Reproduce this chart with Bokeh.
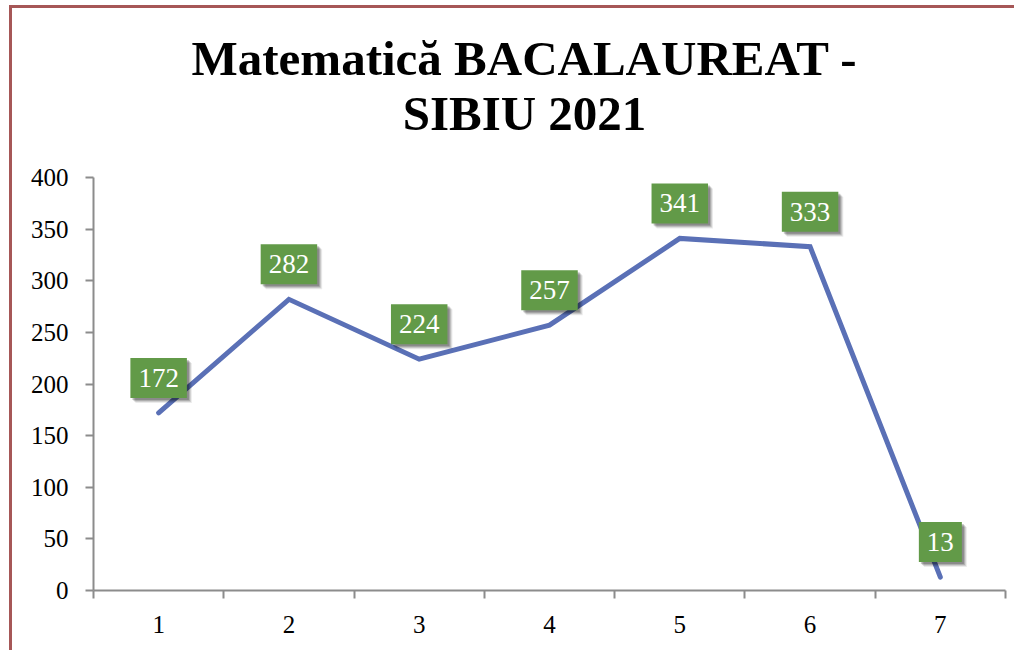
from bokeh.plotting import figure
from bokeh.models import ColumnDataSource, FixedTicker, Range1d
from bokeh.core.properties import value
from bokeh.embed import file_html
from bokeh.resources import INLINE

categories = [1, 2, 3, 4, 5, 6, 7]
values = [172, 282, 224, 257, 341, 333, 13]
title_lines = ["Matematică BACALAUREAT -", "SIBIU 2021"]
y_ticks = [0, 50, 100, 150, 200, 250, 300, 350, 400]

FONT = "Liberation Serif"

# layout (page pixels)
CANVAS_LEFT, CANVAS_TOP = 12, 8
FRAME_LEFT, FRAME_RIGHT = 93, 1005
Y0_PX, Y400_PX = 590, 177
px_per_unit = (Y0_PX - Y400_PX) / 400.0
y_top = (Y0_PX - CANVAS_TOP) / px_per_unit          # frame reaches canvas top
px_per_cat = (FRAME_RIGHT - FRAME_LEFT) / 7.0

def page_to_y(py):
    return (Y0_PX - py) / px_per_unit

def page_to_x(px):
    return 0.5 + (px - FRAME_LEFT) / px_per_cat

W = 1008
H = 645
p = figure(width=W, height=H, output_backend="svg", toolbar_location=None,
           x_range=Range1d(0.5, 7.5), y_range=Range1d(0, y_top),
           min_border_left=FRAME_LEFT - CANVAS_LEFT,
           min_border_right=CANVAS_LEFT + W - FRAME_RIGHT,
           min_border_top=0,
           min_border_bottom=CANVAS_TOP + H - Y0_PX)
p.styles = {"box-shadow": "-3px -3px 0 0 #A65757",
            "clip-path": "inset(-3px 6px 0px -3px)",
            "margin-top": f"{CANVAS_TOP}px", "margin-left": f"{CANVAS_LEFT}px"}
p.outline_line_color = None
p.grid.visible = False
p.background_fill_color = "white"
p.border_fill_color = "white"

src = ColumnDataSource(dict(x=categories, y=values, t=[str(v) for v in values]))
p.line("x", "y", source=src, line_color="#5A70B6", line_width=5, line_cap="round", line_join="miter")

# axes
xa = p.xaxis[0]
xa.ticker = FixedTicker(ticks=categories, minor_ticks=[c - 0.5 for c in categories] + [7.5])
xa.major_tick_out = 0
xa.major_tick_in = 0
xa.minor_tick_out = 8
xa.minor_tick_in = 0
xa.minor_tick_line_color = "#8C8C8C"
xa.minor_tick_line_width = 2
xa.axis_line_color = "#8C8C8C"
xa.axis_line_width = 2
xa.major_label_text_font = FONT
xa.major_label_text_font_size = "25px"
xa.major_label_text_color = "black"
xa.major_label_standoff = 17

ya = p.yaxis[0]
ya.ticker = FixedTicker(ticks=y_ticks)
ya.bounds = (0, 400)
ya.major_tick_out = 8
ya.major_tick_in = 0
ya.minor_tick_out = 0
ya.minor_tick_in = 0
ya.major_tick_line_color = "#8C8C8C"
ya.major_tick_line_width = 2
ya.axis_line_color = "#8C8C8C"
ya.axis_line_width = 2
ya.major_label_text_font = FONT
ya.major_label_text_font_size = "25px"
ya.major_label_text_color = "black"
ya.major_label_standoff = 17

# shadows for data labels
for dx, dy, a in [(5, 5, 0.08), (4, 4, 0.12), (3, 3, 0.16), (2, 2, 0.2)]:
    p.text("x", "y", text="t", source=src, x_offset=dx, y_offset=-35 + dy,
           text_align="center", text_baseline="middle",
           text_font=value(FONT), text_font_size="27px", text_alpha=0,
           background_fill_color="black", background_fill_alpha=a, padding=(8, 11))

p.text("x", "y", text="t", source=src, y_offset=-35,
       text_align="center", text_baseline="middle",
       text_font=value(FONT), text_font_size="27px", text_color="white",
       background_fill_color="#629A48", padding=(8, 11))

# title (two lines, placed in the upper part of the canvas)
tsrc = ColumnDataSource(dict(x=[page_to_x(524)] * 2,
                             y=[page_to_y(58), page_to_y(113)],
                             t=title_lines))
p.text("x", "y", text="t", source=tsrc, text_align="center", text_baseline="alphabetic",
       text_font=value(FONT), text_font_size="49px", text_font_style="bold",
       text_color="black")

open("out.html", "w").write(file_html(p, INLINE))
